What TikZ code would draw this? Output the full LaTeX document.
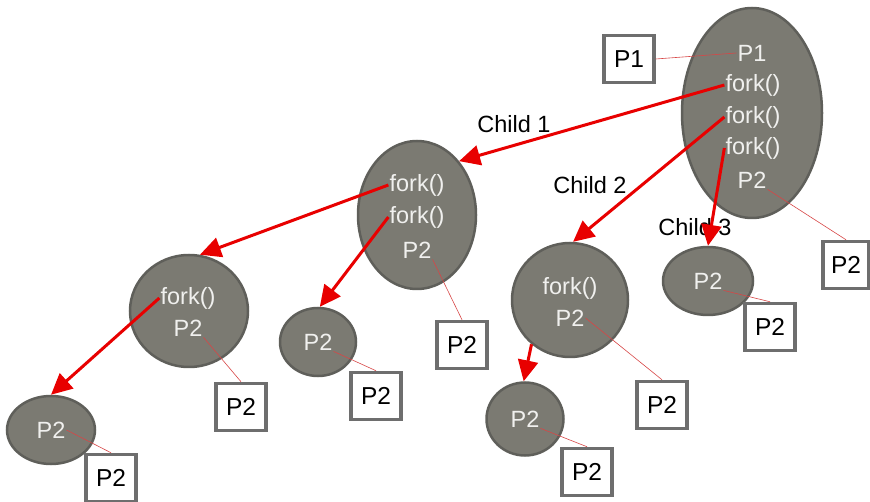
\documentclass[tikz,border=0pt]{standalone}
\usepackage{fontspec}
\setmainfont{Liberation Sans}
\usetikzlibrary{shapes.geometric,arrows.meta}
\definecolor{procfill}{RGB}{123,122,114}
\definecolor{procedge}{RGB}{95,95,90}
\definecolor{proctext}{RGB}{240,240,238}
\definecolor{boxedge}{RGB}{110,110,110}
\definecolor{forkred}{RGB}{232,0,0}
\definecolor{linkred}{RGB}{215,70,70}
\begin{document}
\begin{tikzpicture}[x=1pt,y=-1pt,
  proc/.style={ellipse, draw=procedge, fill=procfill, line width=2.5pt, inner sep=0pt},
  etext/.style={text=proctext, font=\fontsize{23.5}{23.5}\selectfont, inner sep=1pt},
  pbox/.style={draw=boxedge, fill=white, line width=3.5pt, minimum width=50pt,
    minimum height=47pt, font=\fontsize{24.5}{24.5}\selectfont, inner sep=0pt},
  forkarrow/.style={draw=forkred, line width=3pt, -{Triangle[length=21pt,width=20pt]}},
  link/.style={draw=linkred, line width=0.6pt},
  lbl/.style={font=\fontsize{23.5}{23.5}\selectfont, inner sep=0pt}]
\useasboundingbox (0,0) rectangle (870,502);

% process ellipses
\node[proc, minimum width=140pt, minimum height=210pt] (p1) at (752,113) {};
\node[proc, minimum width=118pt, minimum height=148pt] (c1) at (417,215) {};
\node[proc, minimum width=116pt, minimum height=114pt] (c2) at (570,300) {};
\node[proc, minimum width=90pt,  minimum height=68pt]  (c3) at (708,281) {};
\node[proc, minimum width=118pt, minimum height=112pt] (g1) at (189,311) {};
\node[proc, minimum width=76pt,  minimum height=68pt]  (g2) at (318,342) {};
\node[proc, minimum width=88pt,  minimum height=68pt]  (h1) at (51,430) {};
\node[proc, minimum width=77pt,  minimum height=73pt]  (g3) at (525,419) {};

% lines of code inside the processes
\node[etext] (p1t)  at (752,53)  {P1};
\node[etext] (p1fa) at (753,85)  {fork()};
\node[etext] (p1fb) at (753,117) {fork()};
\node[etext] (p1fc) at (753,148) {fork()};
\node[etext] (p1p)  at (752,180) {P2};
\node[etext] (c1fa) at (417,185) {fork()};
\node[etext] (c1fb) at (417,217) {fork()};
\node[etext] (c1p)  at (417,250) {P2};
\node[etext] (c2fa) at (570,288) {fork()};
\node[etext] (c2p)  at (570,318) {P2};
\node[etext] (c3p)  at (708,281) {P2};
\node[etext] (g1fa) at (188,298) {fork()};
\node[etext] (g1p)  at (188,328) {P2};
\node[etext] (g2p)  at (318,342) {P2};
\node[etext] (h1p)  at (51,430)  {P2};
\node[etext] (g3p)  at (525,419) {P2};

% output boxes
\node[pbox] (b0) at (629,59)  {P1};
\node[pbox, minimum width=46pt] (b1) at (846,265) {P2};
\node[pbox] (b2) at (462,345) {P2};
\node[pbox] (b3) at (770,327) {P2};
\node[pbox] (b4) at (662,405) {P2};
\node[pbox] (b5) at (376,396) {P2};
\node[pbox] (b6) at (241,407) {P2};
\node[pbox] (b7) at (111,478) {P2};
\node[pbox] (b8) at (587,472) {P2};

% thin links from outputs to boxes
\draw[link] (p1t.west) -- (b0.east);
\draw[link] (p1p.south east) -- (b1.north);
\draw[link] (c1p.south east) -- (b2.north);
\draw[link] (c3p.south east) -- (b3.north);
\draw[link] (c2p.east) -- (b4.north);
\draw[link] (g2p.south east) -- (b5.north);
\draw[link] (g1p.south east) -- (b6.north);
\draw[link] (h1p.east) -- (b7.north);
\draw[link] (g3p.south east) -- (b8.north);

% child labels
\node[lbl] (l1) at (514,124) {Child 1};
\node[lbl] (l2) at (590,185) {Child 2};
\node[lbl] (l3) at (695,227) {Child 3};

% fork arrows
\draw[forkarrow] (p1fa.west) -- (c1.52);
\draw[forkarrow] (p1fb.west) -- (c2.87);
\draw[forkarrow] (p1fc.west) -- (c3.90);
\draw[forkarrow] (c1fa.west) -- (g1.79);
\draw[forkarrow] (c1fb.west) -- (g2.87);
\draw[forkarrow] (g1fa.west) -- (h1.90);
\draw[forkarrow] (c2.229) -- (g3.92);
\end{tikzpicture}
\end{document}
